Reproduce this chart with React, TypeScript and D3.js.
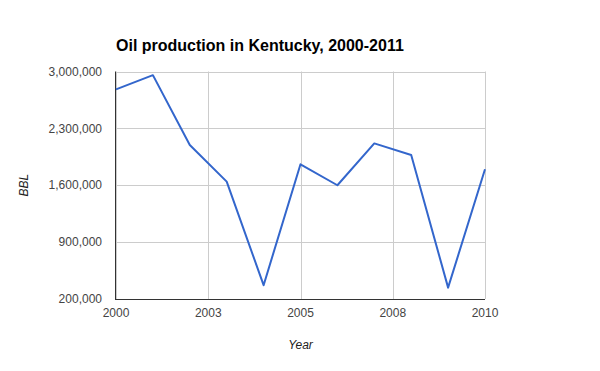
import * as d3 from "d3";

const title = "Oil production in Kentucky, 2000-2011";
const years = [2000, 2001, 2002, 2003, 2004, 2005, 2006, 2007, 2008, 2009, 2010];
const production = [2780000, 2955000, 2095000, 1645000, 370000, 1858000, 1600000, 2115000, 1972000, 340000, 1796000];
const yTicks = [200000, 900000, 1600000, 2300000, 3000000];
const xTicks = [2000, 2002.5, 2005, 2007.5, 2010];
const xTickLabels = ["2000", "2003", "2005", "2008", "2010"];

const W = 600, H = 371;
const m = { l: 116, r: 115, t: 71.5, b: 72 };
const font = "Arial, 'Liberation Sans', sans-serif";

export default function App() {
  const x = d3.scaleLinear([2000, 2010], [m.l, W - m.r]);
  const y = d3.scaleLinear([200000, 3000000], [H - m.b, m.t]);
  const line = d3.line<number>().x((_, i) => x(years[i])).y((d) => y(d));
  const fmt = d3.format(",");

  return (
    <svg width={W} height={H} style={{ position: "absolute", left: 0, top: 0, background: "#fff" }} fontFamily={font}>
      <text x={m.l} y={51} fontSize={16} fontWeight="bold" fill="#000">{title}</text>
      {yTicks.map((t) => (
        <g key={t}>
          <line x1={m.l} x2={W - m.r} y1={Math.round(y(t)) + 0.5} y2={Math.round(y(t)) + 0.5} stroke="#cccccc" />
          <text x={m.l - 14} y={y(t)} dy="0.35em" textAnchor="end" fontSize={12} fill="#444">{fmt(t)}</text>
        </g>
      ))}
      {xTicks.map((t, i) => (
        <g key={t}>
          <line x1={Math.round(x(t)) + 0.5} x2={Math.round(x(t)) + 0.5} y1={m.t} y2={H - m.b} stroke="#cccccc" />
          <text x={x(t)} y={H - m.b + 18} textAnchor="middle" fontSize={12} fill="#444">{xTickLabels[i]}</text>
        </g>
      ))}
      <line x1={m.l - 0.5} x2={m.l - 0.5} y1={m.t} y2={H - m.b} stroke="#333" />
      <line x1={m.l - 1} x2={W - m.r} y1={H - m.b + 0.5} y2={H - m.b + 0.5} stroke="#333" />
      <path d={line(production)!} fill="none" stroke="#3366cc" strokeWidth={2} strokeLinejoin="round" />
      <text transform={`translate(28,${(m.t + H - m.b) / 2}) rotate(-90)`} textAnchor="middle" fontSize={12} fontStyle="italic" fill="#222">BBL</text>
      <text x={(m.l + W - m.r) / 2} y={349} textAnchor="middle" fontSize={12} fontStyle="italic" fill="#222">Year</text>
    </svg>
  );
}
